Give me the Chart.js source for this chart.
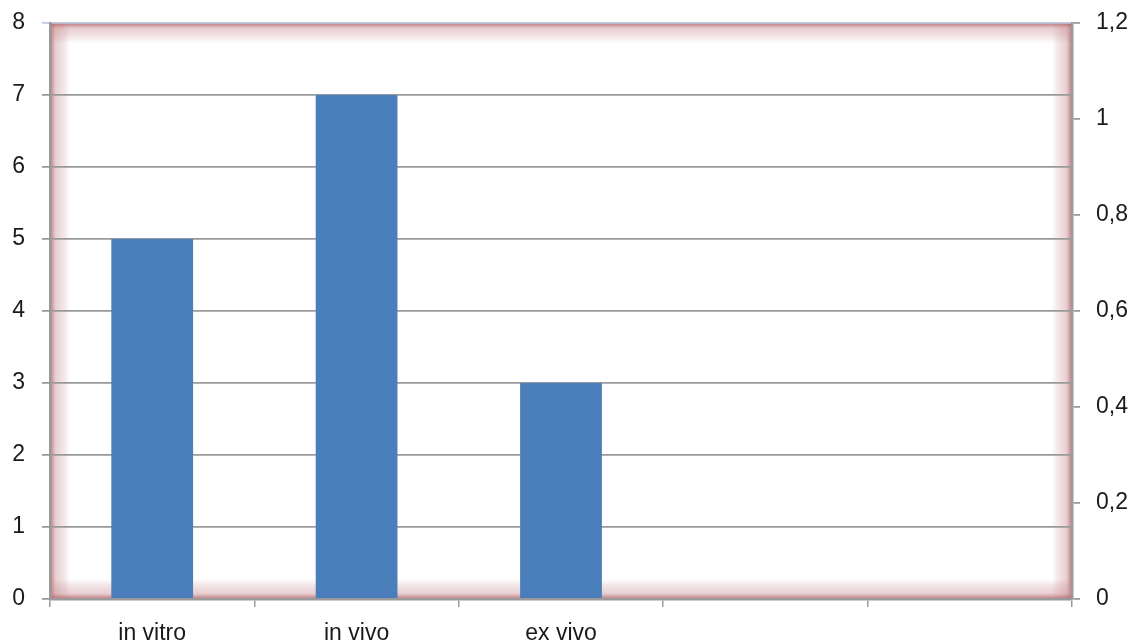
<!DOCTYPE html>
<html>
<head>
<meta charset="utf-8">
<script src="https://cdn.jsdelivr.net/npm/chart.js@4/dist/chart.umd.min.js"></script>
<style>
  html, body { margin: 0; padding: 0; background: #fff; }
  .chart-container { width: 1132px; height: 643px; }
</style>
</head>
<body>
<div class="chart-container"><canvas id="chart"></canvas></div>
<script>
const categories = ['in vitro', 'in vivo', 'ex vivo', '', ''];
const counts = [5, 7, 3, null, null];
const leftTicks = [0, 1, 2, 3, 4, 5, 6, 7, 8];
const rightTicks = [0, 0.2, 0.4, 0.6, 0.8, 1, 1.2];

const axisGray = '#9a9a9a';
const font = { family: '"Liberation Sans", Arial, sans-serif', size: 23, lineHeight: 1 };

// soft reddish inner glow along the plot area edges
const innerGlow = {
  id: 'innerGlow',
  beforeDraw(chart) {
    const { ctx, chartArea: a } = chart;
    const w = 20, c0 = 'rgba(170,85,90,0.8)', c1 = 'rgba(175,95,100,0)';
    ctx.save();
    const edges = [
      [a.left, a.top, a.left + w, a.top, a.left, a.top, w, a.bottom - a.top],
      [a.right, a.top, a.right - w, a.top, a.right - w, a.top, w, a.bottom - a.top],
      [a.left, a.top, a.left, a.top + w, a.left, a.top, a.right - a.left, w],
      [a.left, a.bottom, a.left, a.bottom - w, a.left, a.bottom - w, a.right - a.left, w],
    ];
    edges.forEach(([x0, y0, x1, y1, rx, ry, rw, rh]) => {
      const g = ctx.createLinearGradient(x0, y0, x1, y1);
      g.addColorStop(0, c0);
      g.addColorStop(0.3, 'rgba(200,140,145,0.4)');
      g.addColorStop(1, c1);
      ctx.fillStyle = g;
      ctx.fillRect(rx, ry, rw, rh);
    });
    ctx.restore();
  }
};

// fixed axis box sizes so the plot area lands where the original has it
const fitLeft = s => { s.width = 50; s.paddingTop = 0; };
const fitRight = s => { s.width = 60; s.paddingTop = 0; };

new Chart(document.getElementById('chart'), {
  type: 'bar',
  data: {
    labels: categories,
    datasets: [{
      data: counts,
      backgroundColor: '#4a7ebb',
      barPercentage: 0.4,
      categoryPercentage: 1,
      yAxisID: 'y',
    }]
  },
  options: {
    responsive: true,
    maintainAspectRatio: false,
    animation: false,
    layout: { padding: { top: 23 } },
    plugins: { legend: { display: false }, tooltip: { enabled: false } },
    scales: {
      x: {
        offset: true,
        afterFit: s => { s.height = 44; },
        grid: { offset: true, drawOnChartArea: false, color: axisGray, lineWidth: 1.5, tickLength: 8 },
        border: { color: axisGray, width: 2.5 },
        ticks: { color: '#1a1a1a', font, padding: 15, maxRotation: 0 },
      },
      y: {
        position: 'left',
        min: 0, max: 8,
        afterFit: fitLeft,
        afterBuildTicks: s => { s.ticks = leftTicks.map(v => ({ value: v })); },
        grid: {
          color: ctx => ctx.tick && ctx.tick.value === 8 ? '#bccbe0' : axisGray,
          lineWidth: 1.8, tickLength: 8,
        },
        border: { color: axisGray, width: 2.5 },
        ticks: { color: '#1a1a1a', font, padding: 17 },
      },
      y1: {
        position: 'right',
        min: 0, max: 1.2,
        afterFit: fitRight,
        afterBuildTicks: s => { s.ticks = rightTicks.map(v => ({ value: v })); },
        grid: { drawOnChartArea: false, color: axisGray, lineWidth: 1.8, tickLength: 8 },
        border: { color: axisGray, width: 2.5 },
        ticks: {
          color: '#1a1a1a', font, padding: 16,
          callback: v => String(Math.round(v * 10) / 10).replace('.', ','),
        },
      },
    }
  },
  plugins: [innerGlow]
});
</script>
</body>
</html>
